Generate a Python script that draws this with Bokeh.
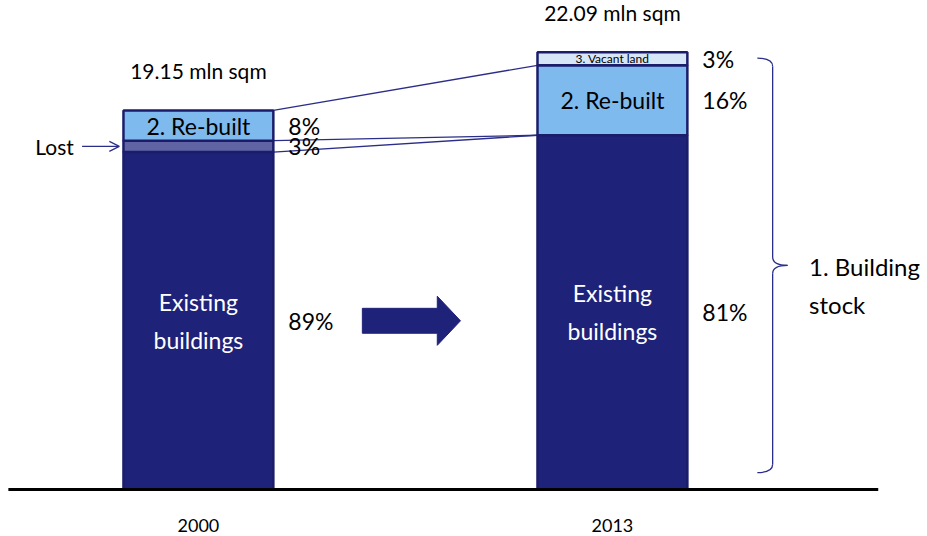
import numpy as np
from bokeh.plotting import figure
from bokeh.models import ColumnDataSource, Range1d, Arrow, OpenHead
from bokeh.core.properties import value
from bokeh.embed import file_html
from bokeh.resources import INLINE

# Land use of the area, mln sqm, and the share of each component
years = ["2000", "2013"]
totals_mln_sqm = [19.15, 22.09]
existing_pct = [89, 81]
lost_pct = [3, 0]
rebuilt_pct = [8, 16]
vacant_pct = [0, 3]

segment_keys = ["existing", "lost", "rebuilt", "vacant"]
segment_texts = ["Existing\nbuildings", "", "2. Re-built", "3. Vacant land"]
segment_pcts = [existing_pct, lost_pct, rebuilt_pct, vacant_pct]

FONT = "Lato"
NAVY = "#1f2279"
EDGE = "#1b1d6b"
LINE = "#2b2e88"
fills = {"existing": NAVY, "lost": "#6164a4", "rebuilt": "#7fbaef", "vacant": "#d6e6f7"}
text_colors = {"existing": "white", "lost": "black", "rebuilt": "black", "vacant": "black"}
text_sizes = {"existing": "23px", "lost": "23px", "rebuilt": "23px", "vacant": "12px"}

W = 0.362  # bar width in category units
xs = np.arange(len(years), dtype=float)
totals = np.array(totals_mln_sqm)

# stacked segment bounds in mln sqm
bottoms, tops = {}, {}
run = np.zeros(len(years))
for key, pct in zip(segment_keys, segment_pcts):
    h = totals * np.array(pct) / 100.0
    bottoms[key] = run.copy()
    tops[key] = run + h
    run = run + h

p = figure(width=927, height=536, output_backend="svg", toolbar_location=None,
           x_range=Range1d(-0.478, 1.761), y_range=Range1d(-2.374, 24.70),
           min_border=0, outline_line_color=None, background_fill_color="white")
p.axis.visible = False
p.grid.visible = False

# connector lines between the two bars
x_right0 = xs[0] + W / 2
x_left1 = xs[1] - W / 2
p.segment(x0=[x_right0] * 3, x1=[x_left1] * 3,
          y0=[tops["rebuilt"][0], tops["lost"][0], tops["existing"][0]],
          y1=[tops["rebuilt"][1], tops["existing"][1], tops["existing"][1]],
          line_color=LINE, line_width=1.3)

# stacked bars
for key, label, pcts in zip(segment_keys, segment_texts, segment_pcts):
    h = tops[key] - bottoms[key]
    mask = h > 0
    mid = ((bottoms[key] + tops[key]) / 2)[mask]
    src = ColumnDataSource(dict(x=xs[mask], b=bottoms[key][mask], t=tops[key][mask], mid=mid))
    p.vbar(x="x", bottom="b", top="t", width=W, source=src,
           fill_color=fills[key], line_color=EDGE, line_width=2.5)
    if label:
        p.text(x="x", y="mid", text=value(label), source=src, text_align="center",
               text_baseline="middle", text_font=value(FONT), text_font_size=text_sizes[key],
               text_color=text_colors[key], text_line_height=1.35)
    # share labels to the right of each segment
    src2 = ColumnDataSource(dict(x=xs[mask] + W / 2, y=mid,
                                 pct=[f"{v}%" for v, m in zip(pcts, mask) if m]))
    p.text(x="x", y="y", text="pct", source=src2, x_offset=15, text_align="left",
           text_baseline="middle", text_font=value(FONT), text_font_size="23px", text_color="black")

# totals above the bars
p.text(x=xs, y=totals, text=[f"{t:.2f} mln sqm" for t in totals_mln_sqm], y_offset=-27,
       text_align="center", text_baseline="bottom", text_font=value(FONT),
       text_font_size="21px", text_color="black")

# baseline and year labels
p.segment(x0=[-0.459], x1=[1.642], y0=[0], y1=[0], line_color="black", line_width=3)
p.text(x=xs, y=[0] * len(xs), text=years, y_offset=36, text_align="center",
       text_baseline="middle", text_font=value(FONT), text_font_size="18px", text_color="black")

# block arrow between the years
ay = tops["existing"][0] / 2
mx = xs.mean()
shaft_h, head_h = 0.63, 1.24
ax0, ax1, ax2 = mx - 0.104, mx + 0.077, mx + 0.133
p.patch(x=[ax0, ax1, ax1, ax2, ax1, ax1, ax0],
        y=[ay - shaft_h, ay - shaft_h, ay - head_h, ay, ay + head_h, ay + shaft_h, ay + shaft_h],
        fill_color=NAVY, line_color=NAVY, line_width=1)

# "Lost" pointer
lost_y = (bottoms["lost"][0] + tops["lost"][0]) / 2
bar_left0 = xs[0] - W / 2
p.add_layout(Arrow(end=OpenHead(size=10, line_color=LINE, line_width=1.2),
                   x_start=bar_left0 - 0.1, x_end=bar_left0 - 0.01,
                   y_start=lost_y, y_end=lost_y, line_color=LINE, line_width=1.2))
p.text(x=[bar_left0 - 0.12], y=[lost_y], text=["Lost"], text_align="right",
       text_baseline="middle", text_font=value(FONT), text_font_size="21px", text_color="black")

# curly brace around the 2013 building stock
yt = totals[1] - 0.3
yb = 0.85
ym = (yt + yb) / 2
r = 0.42
xa = xs[1] + W / 2 + 0.169
xv = xa + 0.037
xp = xv + 0.036
p.quadratic(x0=[xa, xv, xp, xv], y0=[yt, ym + r, ym, yb + r],
            x1=[xv, xp, xv, xa], y1=[yt - r, ym, ym - r, yb],
            cx=[xv, xv, xv, xv], cy=[yt, ym, ym, yb],
            line_color=LINE, line_width=1.3)
p.segment(x0=[xv, xv], x1=[xv, xv], y0=[yt - r, ym - r], y1=[ym + r, yb + r],
          line_color=LINE, line_width=1.3)
p.text(x=[xp + 0.052], y=[ym], text=["1. Building\nstock"], y_offset=20,
       text_align="left", text_baseline="middle", text_font=value(FONT),
       text_font_size="24px", text_color="black", text_line_height=1.3)

open("out.html", "w").write(file_html(p, INLINE))
